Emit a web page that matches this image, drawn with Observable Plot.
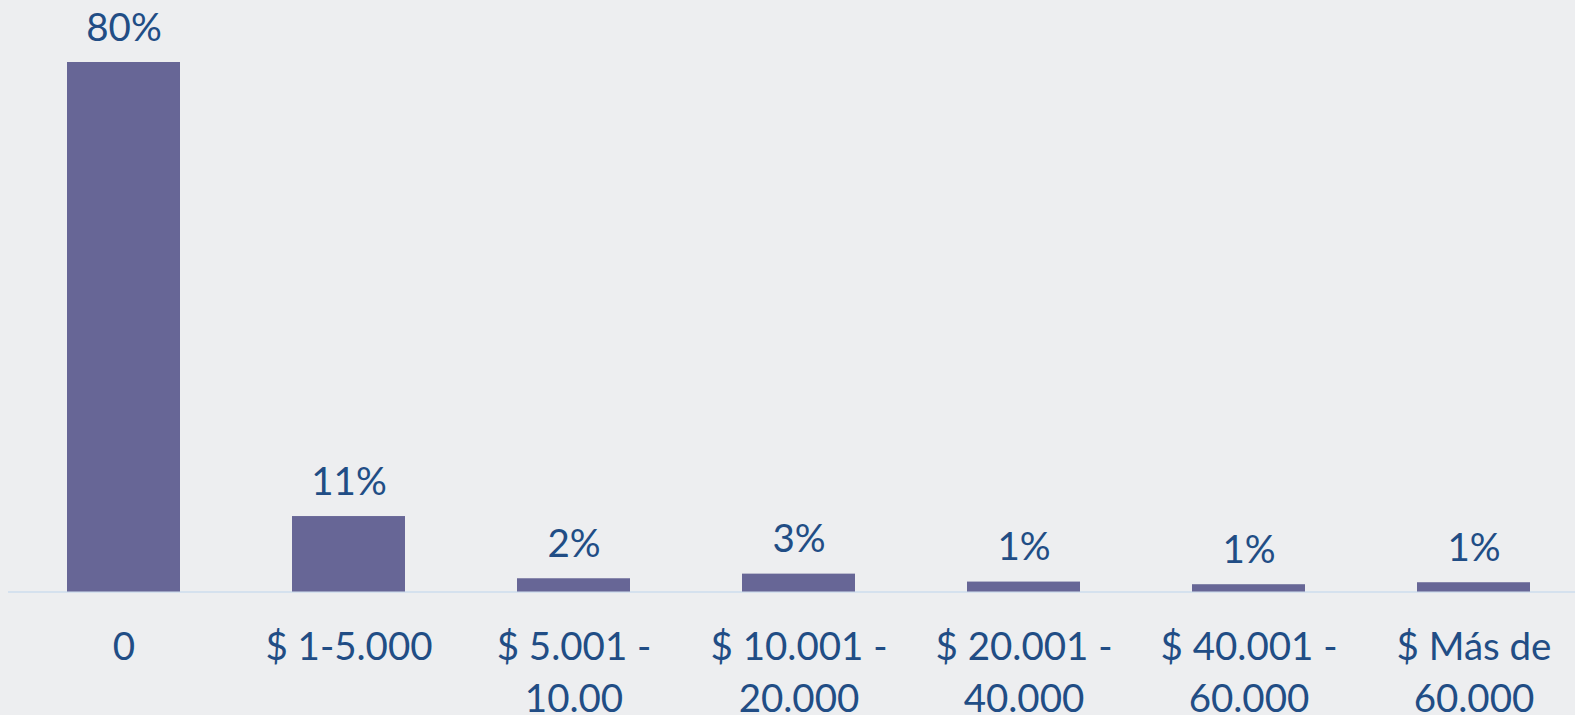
<!DOCTYPE html>
<html>
<head>
<meta charset="utf-8">
<script src="https://cdn.jsdelivr.net/npm/d3@7"></script>
<script src="https://cdn.jsdelivr.net/npm/@observablehq/plot@0.6"></script>
<style>
  html, body { margin: 0; padding: 0; background: #edeef0; }
  #chart svg { display: block; }
</style>
</head>
<body>
<div id="chart"></div>
<script>
const categories = ["0", "$ 1-5.000", "$ 5.001 - 10.00", "$ 10.001 - 20.000", "$ 20.001 - 40.000", "$ 40.001 - 60.000", "$ Más de 60.000"];
const tickLabels = ["0", "$ 1-5.000", "$ 5.001 -\n10.00", "$ 10.001 -\n20.000", "$ 20.001 -\n40.000", "$ 40.001 -\n60.000", "$ Más de\n60.000"];
const values = [80, 11.4, 2.0, 2.7, 1.5, 1.1, 1.4];
const valueLabels = ["80%", "11%", "2%", "3%", "1%", "1%", "1%"];

const data = categories.map((c, i) => ({cat: c, value: values[i], label: valueLabels[i]}));
const tickMap = new Map(categories.map((c, i) => [c, tickLabels[i]]));

const textColor = "#214d85";
const font = "Lato, 'Open Sans', sans-serif";

const chart = Plot.plot({
  width: 1575,
  height: 715,
  marginTop: 62,
  marginBottom: 123.5,
  marginLeft: 8,
  marginRight: 0,
  style: {background: "#edeef0", fontFamily: font, color: textColor, overflow: "visible"},
  x: {domain: categories, range: [65.1, 1532], paddingInner: 0.5, paddingOuter: 0, label: null},
  y: {domain: [0, 80], axis: null},
  marks: [
    Plot.ruleY([0], {stroke: "#d5e1ee", strokeWidth: 2}),
    Plot.barY(data, {x: "cat", y: "value", fill: "#676696"}),
    Plot.text(data, {x: "cat", y: "value", text: "label", dy: -22, lineAnchor: "bottom", fill: textColor, fontSize: 38.5}),
    Plot.axisX({tickSize: 0, tickPadding: 32, fontSize: 38.5, lineHeight: 1.33, fill: textColor, tickFormat: d => tickMap.get(d), label: null})
  ]
});
document.getElementById("chart").appendChild(chart);
</script>
</body>
</html>
